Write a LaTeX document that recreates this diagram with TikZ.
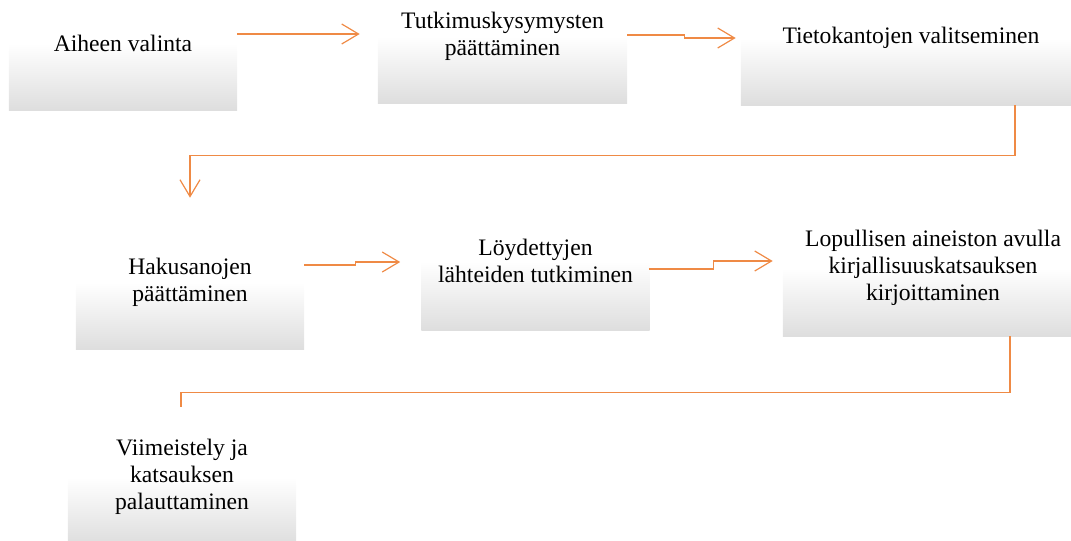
\documentclass[tikz,border=0pt]{standalone}
\usepackage{fontspec}
\setmainfont{Liberation Serif}
\usepackage{xcolor}
\usetikzlibrary{calc, arrows.meta, positioning}

\definecolor{flowline}{HTML}{EF8A45}

\begin{document}
\begin{tikzpicture}[x=0.025cm, y=-0.025cm]
            % Block style
            \tikzstyle{block} = [rectangle, align=center, inner sep=0pt, top color=white, bottom color=black!13, middle color=white, font=\rmfamily\fontsize{16.8}{19.2}\selectfont, minimum width=5.7cm, minimum height=3.35cm]
            \tikzstyle{flow} = [draw=flowline, line width=0.85pt]
            \tikzstyle{flowarrow} = [flow, -{Straight Barb[length=0.42cm, width=0.5cm, line width=0.85pt]}]

            \useasboundingbox (0,0) rectangle (1071,540);
            \clip (0,0) rectangle (1071,540);

            % First row
            \node[block] (valinta) at (123,43) {Aiheen valinta};
            \node[block, minimum width=6.225cm] (kysymykset) at (502.5,36) {Tutkimuskysymysten\\päättäminen};
            \node[block, minimum width=8.5cm] (tietokannat) at (911,38) {Tietokantojen valitseminen};

            % Second row
            \node[block] (hakusanat) at (190,282) {Hakusanojen\\päättäminen};
            \node[block, minimum height=3.45cm] (lahteet) at (535.5,261) {Löydettyjen\\lähteiden tutkiminen};
            \node[block, minimum width=7.5cm, minimum height=3.4cm] (kirjoitus) at (933,268) {Lopullisen aineiston avulla\\kirjallisuuskatsauksen\\kirjoittaminen};

            % Third row
            \node[block] (viimeistely) at (182,477) {Viimeistely ja\\katsauksen\\palauttaminen};

            % Connections
            \draw[flowarrow] ($(valinta.east)+(0,-9)$) -- ($(valinta.east -| kysymykset.west)+(-18,-9)$);
            \draw[flowarrow] ($(kysymykset.east)+(0,-1)$) -- ++(57,0) -- ++(0,3) -- ($(kysymykset.east -| tietokannat.west)+(-5,2)$);
            \draw[flowarrow] ([xshift=2.6cm]tietokannat.south) -- ++(0,50) -| ($(hakusanat.north)+(0,-17)$);

            \draw[flowarrow] ($(hakusanat.east)+(0,-17)$) -- ++(51,0) -- ++(0,-3) -- ($(hakusanat.east -| lahteet.west)+(-21,-20)$);
            \draw[flowarrow] ($(lahteet.east)+(-1,8)$) -- ++(65,0) -- ++(0,-8) -- ($(lahteet.east -| kirjoitus.west)+(-10,0)$);
            \draw[flow] ([xshift=1.925cm]kirjoitus.south) -- ++(0,56) -| ($(viimeistely.north)+(-1,-3)$);
\end{tikzpicture}
\end{document}
